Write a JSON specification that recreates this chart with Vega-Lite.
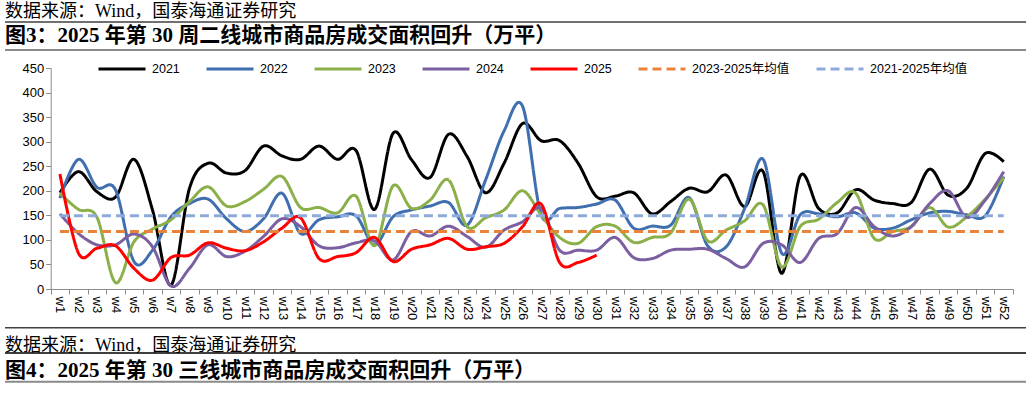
{
  "$schema": "https://vega.github.io/schema/vega-lite/v6.json",
  "padding": {"left": -2, "top": 0, "right": 6, "bottom": 0},
  "spacing": 0,
  "config": {"view": {"stroke": null}, "font": "Liberation Sans"},
  "vconcat": [
    {
      "width": 1021,
      "height": 62,
      "data": {"values": [{}]},
      "layer": [
        {
          "mark": {"type": "text", "text": "数据来源：Wind，国泰海通证券研究", "align": "left", "baseline": "middle", "font": "Liberation Serif, Noto Sans CJK SC", "fontSize": 18, "color": "#000000"},
          "encoding": {
            "x": {"datum": 0, "type": "quantitative", "scale": {"domain": [0, 1]}, "axis": null},
            "y": {"datum": 0.8, "type": "quantitative", "scale": {"domain": [0, 1]}, "axis": null}
          }
        },
        {
          "mark": {"type": "rule", "color": "#404040", "strokeWidth": 1.5},
          "encoding": {"y": {"datum": 0.645, "type": "quantitative"}}
        },
        {
          "mark": {"type": "text", "text": "图3：2025 年第 30 周二线城市商品房成交面积回升（万平）", "align": "left", "baseline": "middle", "font": "Liberation Serif, Noto Sans CJK SC", "fontSize": 21, "fontWeight": "bold", "color": "#000000"},
          "encoding": {
            "x": {"datum": 0, "type": "quantitative"},
            "y": {"datum": 0.425, "type": "quantitative"}
          }
        },
        {
          "mark": {"type": "rule", "color": "#8a8a8a", "strokeWidth": 2},
          "encoding": {"y": {"datum": 0.194, "type": "quantitative"}}
        }
      ]
    },
    {
      "width": 1021,
      "height": 221,
      "data": {
        "values": [
          {"w": "w1", "2021": 196, "2022": 185, "2023": 195, "2024": 153, "2025": 234, "2023-2025年均值": 117, "2021-2025年均值": 149},
          {"w": "w2", "2021": 239, "2022": 264, "2023": 162, "2024": 113, "2025": 73},
          {"w": "w3", "2021": 198, "2022": 207, "2023": 146, "2024": 90, "2025": 83},
          {"w": "w4", "2021": 187, "2022": 202, "2023": 13, "2024": 90, "2025": 88},
          {"w": "w5", "2021": 264, "2022": 56, "2023": 96, "2024": 112, "2025": 42},
          {"w": "w6", "2021": 161, "2022": 79, "2023": 122, "2024": 86, "2025": 18},
          {"w": "w7", "2021": 8, "2022": 147, "2023": 141, "2024": 6, "2025": 64},
          {"w": "w8", "2021": 205, "2022": 174, "2023": 178, "2024": 42, "2025": 69},
          {"w": "w9", "2021": 256, "2022": 183, "2023": 208, "2024": 90, "2025": 94},
          {"w": "w10", "2021": 236, "2022": 143, "2023": 169, "2024": 66, "2025": 83},
          {"w": "w11", "2021": 241, "2022": 117, "2023": 178, "2024": 77, "2025": 78},
          {"w": "w12", "2021": 291, "2022": 143, "2023": 203, "2024": 107, "2025": 96},
          {"w": "w13", "2021": 271, "2022": 195, "2023": 229, "2024": 143, "2025": 124},
          {"w": "w14", "2021": 264, "2022": 113, "2023": 166, "2024": 127, "2025": 145},
          {"w": "w15", "2021": 291, "2022": 141, "2023": 166, "2024": 88, "2025": 62},
          {"w": "w16", "2021": 264, "2022": 147, "2023": 155, "2024": 84, "2025": 66},
          {"w": "w17", "2021": 282, "2022": 149, "2023": 189, "2024": 94, "2025": 74},
          {"w": "w18", "2021": 162, "2022": 90, "2023": 88, "2024": 98, "2025": 105},
          {"w": "w19", "2021": 317, "2022": 147, "2023": 210, "2024": 59, "2025": 56},
          {"w": "w20", "2021": 263, "2022": 161, "2023": 164, "2024": 117, "2025": 81},
          {"w": "w21", "2021": 227, "2022": 169, "2023": 181, "2024": 108, "2025": 90},
          {"w": "w22", "2021": 315, "2022": 176, "2023": 222, "2024": 128, "2025": 103},
          {"w": "w23", "2021": 270, "2022": 130, "2023": 127, "2024": 107, "2025": 81},
          {"w": "w24", "2021": 196, "2022": 222, "2023": 145, "2024": 85, "2025": 86},
          {"w": "w25", "2021": 256, "2022": 322, "2023": 161, "2024": 120, "2025": 93},
          {"w": "w26", "2021": 337, "2022": 372, "2023": 200, "2024": 137, "2025": 127},
          {"w": "w27", "2021": 302, "2022": 152, "2023": 151, "2024": 164, "2025": 173},
          {"w": "w28", "2021": 302, "2022": 164, "2023": 105, "2024": 79, "2025": 54},
          {"w": "w29", "2021": 256, "2022": 166, "2023": 93, "2024": 79, "2025": 54},
          {"w": "w30", "2021": 188, "2022": 173, "2023": 127, "2024": 79, "2025": 69},
          {"w": "w31", "2021": 189, "2022": 181, "2023": 128, "2024": 105},
          {"w": "w32", "2021": 196, "2022": 124, "2023": 95, "2024": 64},
          {"w": "w33", "2021": 153, "2022": 128, "2023": 105, "2024": 62},
          {"w": "w34", "2021": 178, "2022": 130, "2023": 114, "2024": 79},
          {"w": "w35", "2021": 205, "2022": 186, "2023": 183, "2024": 81},
          {"w": "w36", "2021": 198, "2022": 88, "2023": 98, "2024": 81},
          {"w": "w37", "2021": 232, "2022": 86, "2023": 120, "2024": 62},
          {"w": "w38", "2021": 168, "2022": 164, "2023": 139, "2024": 45},
          {"w": "w39", "2021": 239, "2022": 264, "2023": 171, "2024": 93},
          {"w": "w40", "2021": 32, "2022": 73, "2023": 45, "2024": 90},
          {"w": "w41", "2021": 230, "2022": 151, "2023": 127, "2024": 54},
          {"w": "w42", "2021": 164, "2022": 153, "2023": 142, "2024": 103},
          {"w": "w43", "2021": 155, "2022": 147, "2023": 176, "2024": 113},
          {"w": "w44", "2021": 202, "2022": 155, "2023": 195, "2024": 166},
          {"w": "w45", "2021": 181, "2022": 124, "2023": 103, "2024": 127},
          {"w": "w46", "2021": 174, "2022": 124, "2023": 117, "2024": 108},
          {"w": "w47", "2021": 176, "2022": 141, "2023": 127, "2024": 127},
          {"w": "w48", "2021": 244, "2022": 155, "2023": 166, "2024": 174},
          {"w": "w49", "2021": 191, "2022": 158, "2023": 126, "2024": 200},
          {"w": "w50", "2021": 205, "2022": 151, "2023": 147, "2024": 146},
          {"w": "w51", "2021": 276, "2022": 149, "2023": 183, "2024": 181},
          {"w": "w52", "2021": 259, "2022": 229, "2023": 227, "2024": 239, "2023-2025年均值": 117, "2021-2025年均值": 149}
        ]
      },
      "transform": [
        {"fold": ["2021", "2022", "2023", "2024", "2025", "2023-2025年均值", "2021-2025年均值"], "as": ["series", "value"]},
        {"filter": "isValid(datum.value)"}
      ],
      "mark": {"type": "line", "interpolate": "cardinal", "strokeWidth": 3},
      "encoding": {
        "x": {
          "field": "w",
          "type": "ordinal",
          "sort": ["w1","w2","w3","w4","w5","w6","w7","w8","w9","w10","w11","w12","w13","w14","w15","w16","w17","w18","w19","w20","w21","w22","w23","w24","w25","w26","w27","w28","w29","w30","w31","w32","w33","w34","w35","w36","w37","w38","w39","w40","w41","w42","w43","w44","w45","w46","w47","w48","w49","w50","w51","w52"],
          "scale": {"type": "band", "range": [45.7, 1008], "paddingInner": 0, "paddingOuter": 0},
          "axis": {"title": null, "labelAngle": 90, "labelFontSize": 13, "labelColor": "#000000", "tickBand": "extent", "tickSize": 5, "domainColor": "#8c8c8c", "tickColor": "#8c8c8c", "labelPadding": 2, "grid": false}
        },
        "y": {
          "field": "value",
          "type": "quantitative",
          "scale": {"domain": [0, 450], "nice": false},
          "axis": {"title": null, "values": [0, 50, 100, 150, 200, 250, 300, 350, 400, 450], "labelFontSize": 13, "labelColor": "#000000", "tickSize": 5, "offset": -45.7, "grid": false, "domainColor": "#8c8c8c", "tickColor": "#8c8c8c", "labelPadding": 2}
        },
        "color": {
          "field": "series",
          "type": "nominal",
          "scale": {
            "domain": ["2021", "2022", "2023", "2024", "2025", "2023-2025年均值", "2021-2025年均值"],
            "range": ["#000000", "#3F6FAE", "#8BB04A", "#7B5FA0", "#FF0000", "#E8833A", "#8DAADB"]
          },
          "legend": {"orient": "none", "legendX": 92, "legendY": 62, "direction": "horizontal", "title": null, "symbolType": "stroke", "symbolSize": 2209, "symbolStrokeWidth": 3, "clipHeight": 14, "labelFontSize": 12.5, "labelOffset": 5, "columnPadding": 25, "padding": 0, "labelColor": "#000000", "labelFont": "Liberation Sans, Noto Sans CJK SC"}
        },
        "strokeDash": {
          "field": "series",
          "type": "nominal",
          "scale": {
            "domain": ["2021", "2022", "2023", "2024", "2025", "2023-2025年均值", "2021-2025年均值"],
            "range": [[1, 0], [1, 0], [1, 0], [1, 0], [1, 0], [9, 5], [9, 5]]
          },
          "legend": {"orient": "none", "legendX": 92, "legendY": 62, "direction": "horizontal", "title": null, "symbolType": "stroke", "symbolSize": 2209, "symbolStrokeWidth": 3, "clipHeight": 14, "labelFontSize": 12.5, "labelOffset": 5, "columnPadding": 25, "padding": 0, "labelColor": "#000000", "labelFont": "Liberation Sans, Noto Sans CJK SC"}
        }
      }
    },
    {
      "width": 1021,
      "height": 70,
      "data": {"values": [{}]},
      "layer": [
        {
          "mark": {"type": "rule", "color": "#404040", "strokeWidth": 1.5},
          "encoding": {"y": {"datum": 0.89, "type": "quantitative", "scale": {"domain": [0, 1]}, "axis": null}}
        },
        {
          "mark": {"type": "text", "text": "数据来源：Wind，国泰海通证券研究", "align": "left", "baseline": "middle", "font": "Liberation Serif, Noto Sans CJK SC", "fontSize": 18, "color": "#000000"},
          "encoding": {
            "x": {"datum": 0, "type": "quantitative", "scale": {"domain": [0, 1]}, "axis": null},
            "y": {"datum": 0.632, "type": "quantitative"}
          }
        },
        {
          "mark": {"type": "rule", "color": "#000000", "strokeWidth": 1.5},
          "encoding": {"y": {"datum": 0.527, "type": "quantitative"}}
        },
        {
          "mark": {"type": "text", "text": "图4：2025 年第 30 三线城市商品房成交面积回升（万平）", "align": "left", "baseline": "middle", "font": "Liberation Serif, Noto Sans CJK SC", "fontSize": 21, "fontWeight": "bold", "color": "#000000"},
          "encoding": {
            "x": {"datum": 0, "type": "quantitative"},
            "y": {"datum": 0.276, "type": "quantitative"}
          }
        },
        {
          "mark": {"type": "rule", "color": "#8a8a8a", "strokeWidth": 2},
          "encoding": {"y": {"datum": 0.119, "type": "quantitative"}}
        }
      ]
    }
  ]
}
